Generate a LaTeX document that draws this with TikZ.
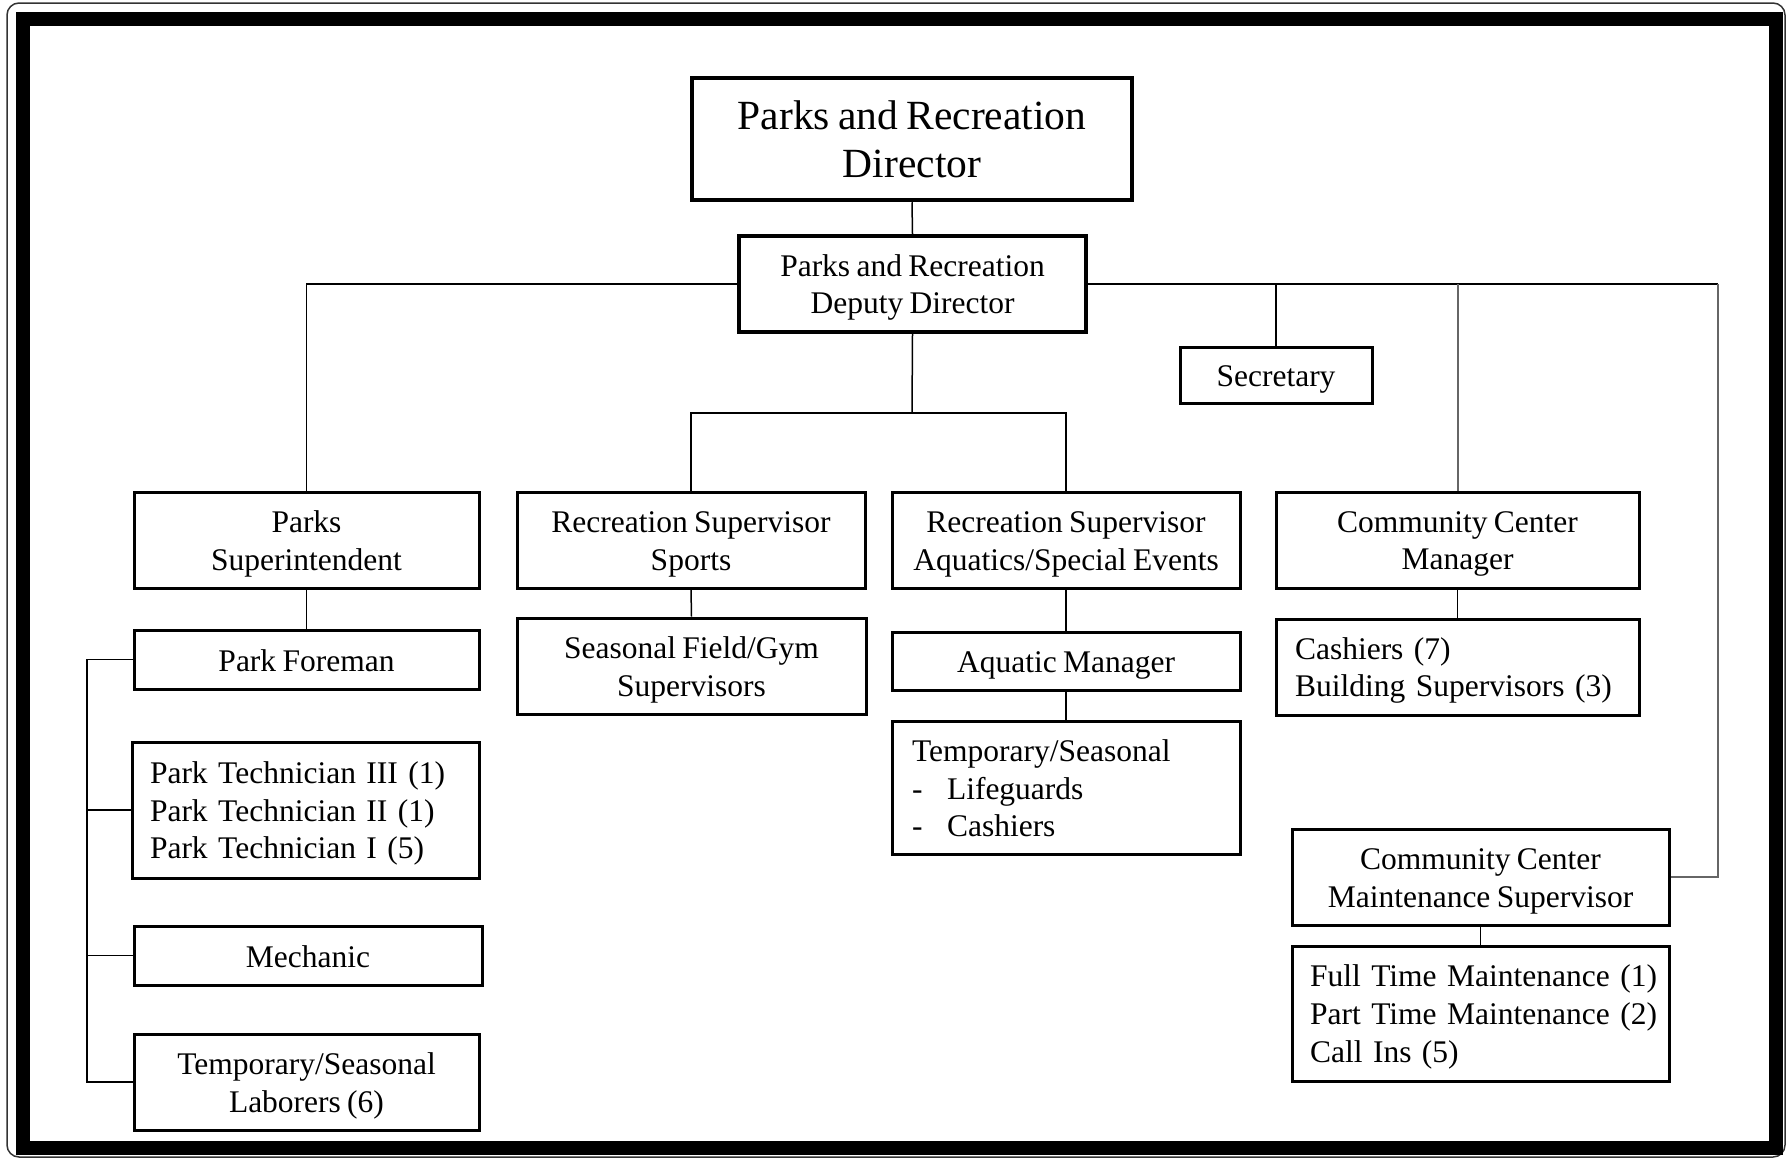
\documentclass[tikz,border=0pt]{standalone}
\usepackage{fontspec}
\setmainfont{Liberation Serif}[WordSpace=0.8]
\newcommand\st{\rule[-6pt]{0pt}{35pt}}
\newcommand\boxline[1]{\st\mbox{#1}}
\begin{document}
\begin{tikzpicture}[x=1pt,y=-1pt,
  box/.style={draw, line width=3pt, inner sep=0pt, align=center,
    font=\fontsize{31.5}{37.7}\selectfont},
  lbox/.style={box, align=left, inner xsep=18pt},
  conn/.style={line width=1.5pt},
  gconn/.style={line width=2pt, draw=black!60}]
\useasboundingbox (0,0) rectangle (1791,1159);
% frame
\draw[line width=1.5pt, rounded corners=12pt, draw=black!80] (7,3) rectangle (1785,1157);
\draw[line width=14pt] (23,19) rectangle (1776,1148);
% nodes
\node[box, line width=4.5pt, minimum width=440pt, minimum height=122pt,
  font=\fontsize{41.5}{48}\selectfont] (dir) at (912,139) {Parks and Recreation\\Director};
\node[box, line width=4pt, minimum width=347pt, minimum height=96pt] (dep) at (912.5,284) {\st Parks and Recreation\\\st Deputy Director};
\node[box, minimum width=192pt, minimum height=56pt] (sec) at (1276,375) {\st Secretary};
\node[box, minimum width=345pt, minimum height=96pt] (ps) at (306.5,540) {\st Parks\\\st Superintendent};
\node[box, minimum width=348pt, minimum height=96pt] (sports) at (691,540) {\st Recreation Supervisor\\\st Sports};
\node[box, minimum width=348pt, minimum height=96pt] (aq) at (1066,540) {\st Recreation Supervisor\\\st Aquatics/Special Events};
\node[box, minimum width=363pt, minimum height=96pt] (ccm) at (1457.5,540) {\st Community Center\\\st Manager};
\node[box, minimum width=345pt, minimum height=59pt] (fore) at (306.5,659.5) {\st Park Foreman};
\node[lbox, text width=311pt, minimum height=136pt] (tech) at (305.5,810) {\boxline{Park Technician III (1)}\\\boxline{Park Technician II (1)}\\\boxline{Park Technician I (5)}};
\node[box, minimum width=348pt, minimum height=59pt] (mech) at (308,955.5) {\st Mechanic};
\node[box, minimum width=345pt, minimum height=96pt] (lab) at (306.5,1082) {\st Temporary/Seasonal\\\st Laborers (6)};
\node[box, minimum width=349pt, minimum height=96pt] (fg) at (691.5,666) {\st Seasonal Field/Gym\\\st Supervisors};
\node[box, minimum width=348pt, minimum height=58pt] (aqm) at (1066,661) {\st Aquatic Manager};
\node[lbox, inner xsep=20pt, text width=308pt, minimum height=133pt] (aqt) at (1066,787.5) {\boxline{Temporary/Seasonal}\\\boxline{\makebox[35pt][l]{-}Lifeguards}\\\boxline{\makebox[35pt][l]{-}Cashiers}};
\node[lbox, inner xsep=19pt, text width=325pt, minimum height=96pt] (cash) at (1457.5,667) {\boxline{Cashiers (7)}\\\boxline{Building Supervisors (3)}};
\node[box, minimum width=377pt, minimum height=96pt] (ccms) at (1480.5,877) {\st Community Center\\\st Maintenance Supervisor};
\node[lbox, text width=341pt, minimum height=135pt] (ft) at (1480.5,1013.5) {\boxline{Full Time Maintenance (1)}\\\boxline{Part Time Maintenance (2)}\\\boxline{Call Ins (5)}};
% coordinates
\coordinate (busR) at (1718,284);
\coordinate (junc) at (912,413);
\coordinate (brk) at (87,659.5);
% connectors
\draw[conn] (dir.south) -- (dep.north);
\draw[conn] (dep.west) -| (ps.north);
\draw[conn] (dep.east) -- (busR);
\draw[conn] (sec.north |- busR) -- (sec.north);
\draw[gconn] (ccm.north |- busR) -- (ccm.north);
\draw[gconn] (busR) |- (ccms.east);
\draw[conn] (dep.south) -- (junc);
\draw[conn] (sports.north) |- (junc) -| (aq.north);
\draw[conn] (ps.south) -- (fore.north);
\draw[conn] (fore.west) -- (brk) |- (lab.west);
\draw[conn] (tech.west) -- (tech.west -| brk);
\draw[conn] (mech.west) -- (mech.west -| brk);
\draw[conn] (sports.south) -- (fg.north);
\draw[conn] (aq.south) -- (aqm.north);
\draw[conn] (aqm.south) -- (aqt.north);
\draw[conn] (ccm.south) -- (cash.north);
\draw[conn] (ccms.south) -- (ft.north);
\end{tikzpicture}
\end{document}
